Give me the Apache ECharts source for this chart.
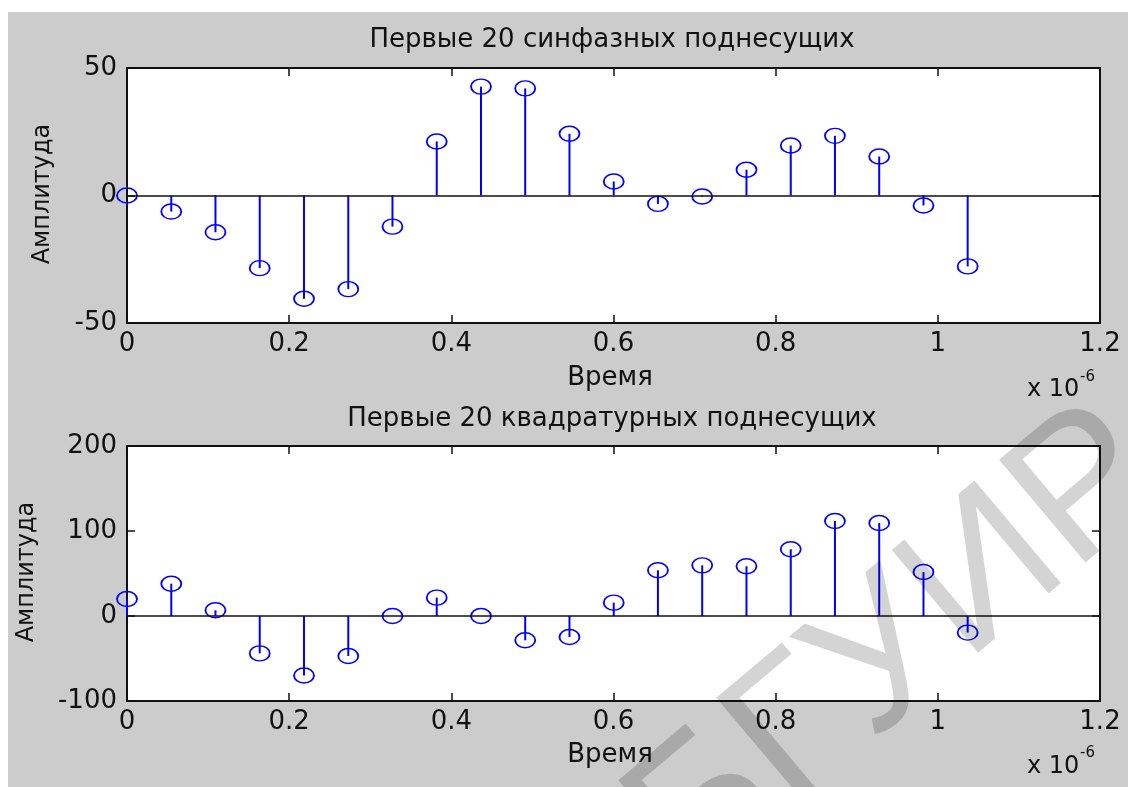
<!DOCTYPE html>
<html>
<head>
<meta charset="utf-8">
<script src="https://cdn.jsdelivr.net/npm/echarts@6/dist/echarts.min.js"></script>
<style>
  html, body { margin: 0; padding: 0; background: #ffffff; }
  #chart { width: 1128px; height: 787px; }
</style>
</head>
<body>
<div id="chart"></div>
<script>
// Sample instants, microseconds (axis scaled by 10^-6)
const times = [0, 0.0546, 0.1091, 0.1637, 0.2183, 0.2729, 0.3274, 0.3820, 0.4366, 0.4911,
               0.5457, 0.6003, 0.6548, 0.7094, 0.7640, 0.8186, 0.8731, 0.9277, 0.9823, 1.0368];

// In-phase subcarrier amplitudes
const inPhase = [0, -6.3, -14.4, -28.5, -40.5, -36.7, -12.2, 21.2, 42.7, 42,
                 24.2, 5.5, -3.3, -0.4, 10.1, 19.6, 23.4, 15.3, -3.9, -27.8];

// Quadrature subcarrier amplitudes
const quadrature = [20, 38, 6.7, -44, -70, -47, 0, 21.6, 0, -28.6,
                    -24.7, 15.7, 53.8, 59.6, 58.5, 78.5, 111.8, 109.4, 51.8, -19.5];

// Axis ticks
const xTicks = [0, 0.2, 0.4, 0.6, 0.8, 1, 1.2];
const yTicksTop = [-50, 0, 50];
const yTicksBottom = [-100, 0, 100, 200];

const titles = ['Первые 20 синфазных поднесущих', 'Первые 20 квадратурных поднесущих'];
const xName = 'Время';
const yName = 'Амплитуда';
const xScale = 'x 10';
const xExp = '-6';
const watermark = 'БГУИР';

const FONT = 'DejaVu Sans';
const BLUE = '#0000ff';
const INK = '#111111';

const chart = echarts.init(document.getElementById('chart'), null, { renderer: 'canvas' });

const grids = [
  { left: 127, top: 68, width: 973, height: 255 },
  { left: 127, top: 446, width: 973, height: 255 }
];

const tickStyle = { show: true, inside: true, length: 8, lineStyle: { color: INK, width: 1.5 } };

function xAxes(gridIndex) {
  const common = {
    type: 'value', gridIndex,
    min: xTicks[0], max: xTicks[xTicks.length - 1], interval: xTicks[1] - xTicks[0],
    axisLine: { show: false, onZero: false },
    axisTick: tickStyle,
    splitLine: { show: false }
  };
  return [
    Object.assign({}, common, {
      position: 'bottom',
      axisLabel: { show: true, margin: 8, fontFamily: FONT, fontSize: 26, color: INK,
                   formatter: v => String(Math.round(v * 10) / 10) }
    }),
    Object.assign({}, common, { position: 'top', axisLabel: { show: false } })
  ];
}

function yAxes(gridIndex, ticks) {
  const common = {
    type: 'value', gridIndex,
    min: ticks[0], max: ticks[ticks.length - 1], interval: ticks[1] - ticks[0],
    axisLine: { show: false, onZero: false },
    axisTick: tickStyle,
    splitLine: { show: false }
  };
  return [
    Object.assign({}, common, {
      position: 'left',
      axisLabel: { show: true, margin: 10, fontFamily: FONT, fontSize: 26, color: INK }
    }),
    Object.assign({}, common, { position: 'right', axisLabel: { show: false } })
  ];
}

function stemSeries(values, xAxisIndex, yAxisIndex) {
  const data = times.map((t, i) => [t, values[i]]);
  return [
    {
      type: 'custom', xAxisIndex, yAxisIndex, data, silent: true,
      renderItem: (params, api) => {
        const base = api.coord([api.value(0), 0]);
        const tip = api.coord([api.value(0), api.value(1)]);
        return {
          type: 'line',
          shape: { x1: base[0], y1: base[1], x2: tip[0], y2: tip[1] },
          style: { stroke: BLUE, lineWidth: 2 }
        };
      },
      markLine: {
        silent: true, symbol: ['none', 'none'], animation: false,
        label: { show: false },
        lineStyle: { color: INK, width: 1.5, type: 'solid' },
        data: [{ yAxis: 0 }]
      },
      z: 2
    },
    {
      type: 'scatter', xAxisIndex, yAxisIndex, data, silent: true,
      symbol: 'path://M0,10 A10,10 0 1,1 20,10 A10,10 0 1,1 0,10 Z',
      symbolSize: [20, 15],
      itemStyle: { color: 'rgba(0,0,0,0)', borderColor: BLUE, borderWidth: 1.6, opacity: 1 },
      z: 3
    }
  ];
}

function textEl(text, x, y, opts) {
  return Object.assign({
    type: 'text', x, y, z: 10, silent: true,
    style: Object.assign({
      text, fill: INK, font: '26px "' + FONT + '"',
      textAlign: 'center', textVerticalAlign: 'middle'
    }, (opts && opts.style) || {})
  }, opts && opts.el ? opts.el : {});
}

const [xa0, xa1] = xAxes(0);
const [xb0, xb1] = xAxes(1);
const [ya0, ya1] = yAxes(0, yTicksTop);
const [yb0, yb1] = yAxes(1, yTicksBottom);

const option = {
  animation: false,
  backgroundColor: '#ffffff',
  grid: grids.map(g => Object.assign({
    show: true, backgroundColor: '#ffffff', borderColor: INK, borderWidth: 2, containLabel: false
  }, g)),
  xAxis: [xa0, xa1, xb0, xb1],
  yAxis: [ya0, ya1, yb0, yb1],
  series: [
    ...stemSeries(inPhase, 0, 0),
    ...stemSeries(quadrature, 2, 2)
  ],
  graphic: [
    // figure background
    { type: 'rect', z: -10, silent: true, shape: { x: 8, y: 12, width: 1120, height: 775 },
      style: { fill: '#cccccc' } },
    // titles
    textEl(titles[0], 612, 40),
    textEl(titles[1], 612, 419),
    // x labels
    textEl(xName, 610, 378),
    textEl(xName, 610, 755),
    // y labels
    textEl(yName, 43, 194, { el: { rotation: Math.PI / 2 }, style: { font: '24px "' + FONT + '"' } }),
    textEl(yName, 27, 572, { el: { rotation: Math.PI / 2 }, style: { font: '24px "' + FONT + '"' } }),
    // axis multiplier
    textEl(xScale, 1027, 390, { style: { textAlign: 'left', font: '24px "' + FONT + '"' } }),
    textEl(xExp, 1080, 377, { style: { textAlign: 'left', font: '15px "' + FONT + '"' } }),
    textEl(xScale, 1027, 767, { style: { textAlign: 'left', font: '24px "' + FONT + '"' } }),
    textEl(xExp, 1080, 753, { style: { textAlign: 'left', font: '15px "' + FONT + '"' } }),
    // watermark
    { type: 'text', x: 898, y: 650, rotation: 0.70, z: 50, silent: true,
      style: { text: watermark, font: '195px "Liberation Sans"', fill: 'rgba(0,0,0,0.17)',
               textAlign: 'center', textVerticalAlign: 'middle' } }
  ]
};

chart.setOption(option);
</script>
</body>
</html>
